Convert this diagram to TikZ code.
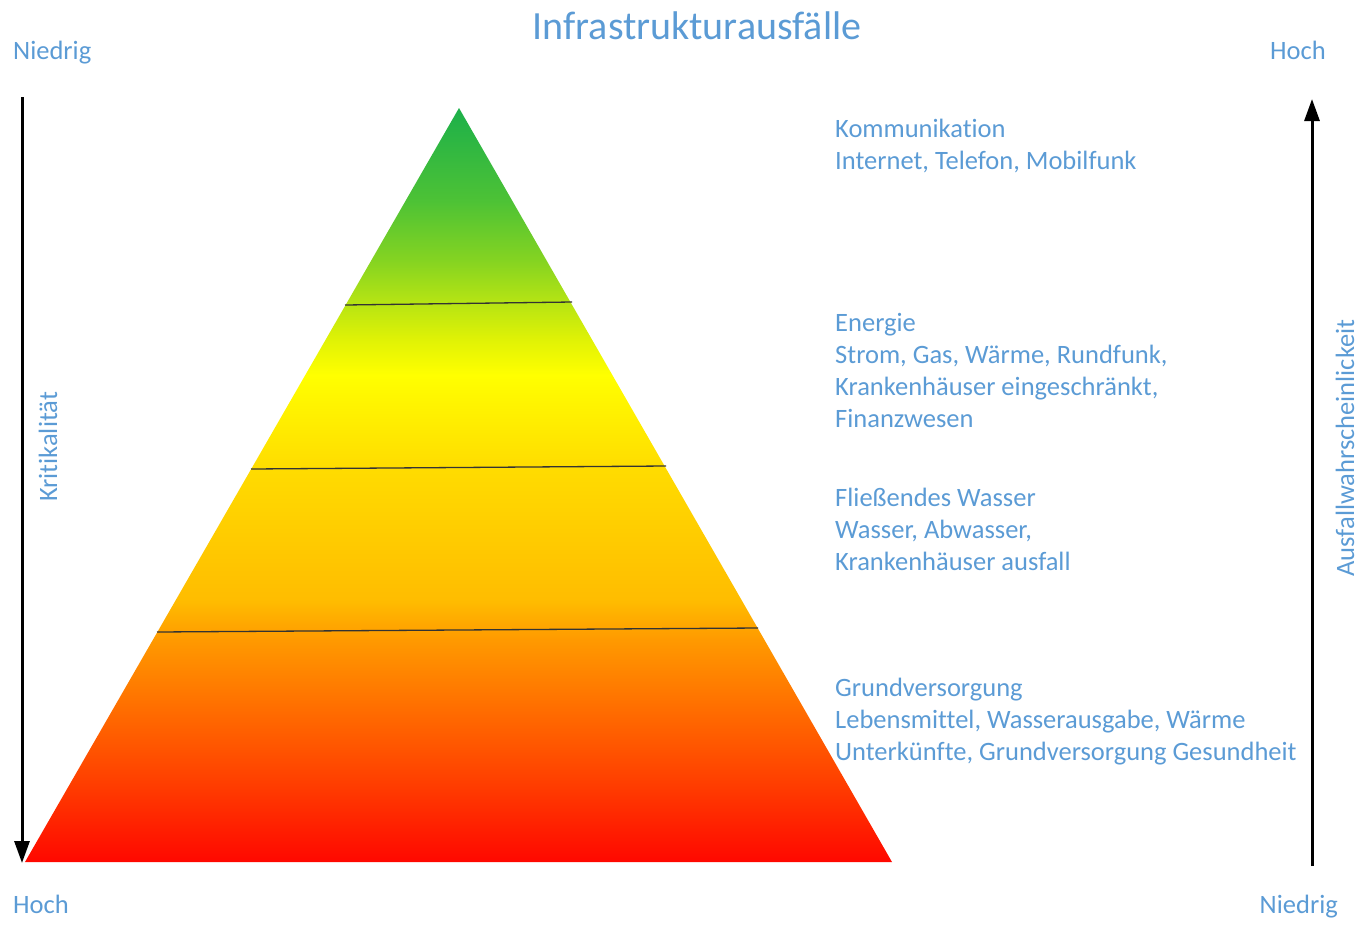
\documentclass[tikz,border=0pt]{standalone}
\usepackage{fontspec}
\setmainfont[Ligatures=NoCommon]{Carlito}
\usetikzlibrary{arrows.meta}
\definecolor{txtblue}{RGB}{91,155,213}
\pgfdeclareverticalshading{pyramidshade}{100bp}{%
  rgb(0bp)=(1,0.03,0);
  rgb(25bp)=(1,0.03,0);
  rgb(30.4bp)=(1,0.25,0);
  rgb(34.4bp)=(1,0.40,0);
  rgb(39.7bp)=(1,0.60,0);
  rgb(42.4bp)=(1,0.74,0);
  rgb(51bp)=(1,0.86,0);
  rgb(57.3bp)=(1,1,0);
  rgb(59.6bp)=(0.88,0.95,0.02);
  rgb(62.3bp)=(0.70,0.89,0.08);
  rgb(64.9bp)=(0.52,0.83,0.13);
  rgb(68.9bp)=(0.30,0.76,0.21);
  rgb(75bp)=(0.11,0.69,0.29);
  rgb(100bp)=(0.11,0.69,0.29)}
\tikzset{
  lbl/.style={text=txtblue, inner sep=0pt, font=\fontsize{26.5}{32}\selectfont},
  ttl/.style={text=txtblue, inner sep=0pt, font=\fontsize{40}{48}\selectfont},
  body/.style={lbl, align=left, anchor=base west},
  axis/.style={line width=3pt, -{Triangle[length=22pt,width=15pt]}},
  divider/.style={line width=1.3pt, black!80}
}
\begin{document}
\begin{tikzpicture}[x=1pt,y=-1pt]
\useasboundingbox (0,0) rectangle (1360,927);
% pyramid
\coordinate (apex) at (459,108);
\coordinate (bl) at (25,862);
\coordinate (br) at (892,862);
\shade[shading=pyramidshade] (apex) -- (br) -- (bl) -- cycle;
% dividers
\coordinate (d1l) at (345,305); \coordinate (d1r) at (572,302);
\coordinate (d2l) at (251,469); \coordinate (d2r) at (666,466);
\coordinate (d3l) at (157,632); \coordinate (d3r) at (758,628);
\draw[divider] (d1l) -- (d1r);
\draw[divider] (d2l) -- (d2r);
\draw[divider] (d3l) -- (d3r);
% axes
\coordinate (la0) at (22,97); \coordinate (la1) at (22,863);
\coordinate (ra0) at (1312,866); \coordinate (ra1) at (1312,99);
\draw[axis] (la0) -- (la1);
\draw[axis] (ra0) -- (ra1);
% title and corner labels
\node[ttl, anchor=base] (title) at (697,39) {Infrastrukturausfälle};
\node[lbl, anchor=base west] (tl) at (13,59) {Niedrig};
\node[lbl, anchor=base east] (tr) at (1326,59) {Hoch};
\node[lbl, anchor=base west] (bll) at (13,913) {Hoch};
\node[lbl, anchor=base east] (brl) at (1338,913) {Niedrig};
% axis captions
\node[lbl, anchor=base, rotate=90] (krit) at (57,447) {Kritikalität};
\node[lbl, anchor=base, rotate=90] (ausf) at (1354,448) {Ausfallwahrscheinlickeit};
% level texts (anchor = baseline of last line)
\node[body] (t1) at (835,169) {Kommunikation\\Internet, Telefon, Mobilfunk};
\node[body] (t2) at (835,427) {Energie\\Strom, Gas, Wärme, Rundfunk,\\Krankenhäuser eingeschränkt,\\Finanzwesen};
\node[body] (t3) at (835,570) {Fließendes Wasser\\Wasser, Abwasser,\\Krankenhäuser ausfall};
\node[body] (t4) at (835,760) {Grundversorgung\\Lebensmittel, Wasserausgabe, Wärme\\Unterkünfte, Grundversorgung Gesundheit};
\end{tikzpicture}
\end{document}
